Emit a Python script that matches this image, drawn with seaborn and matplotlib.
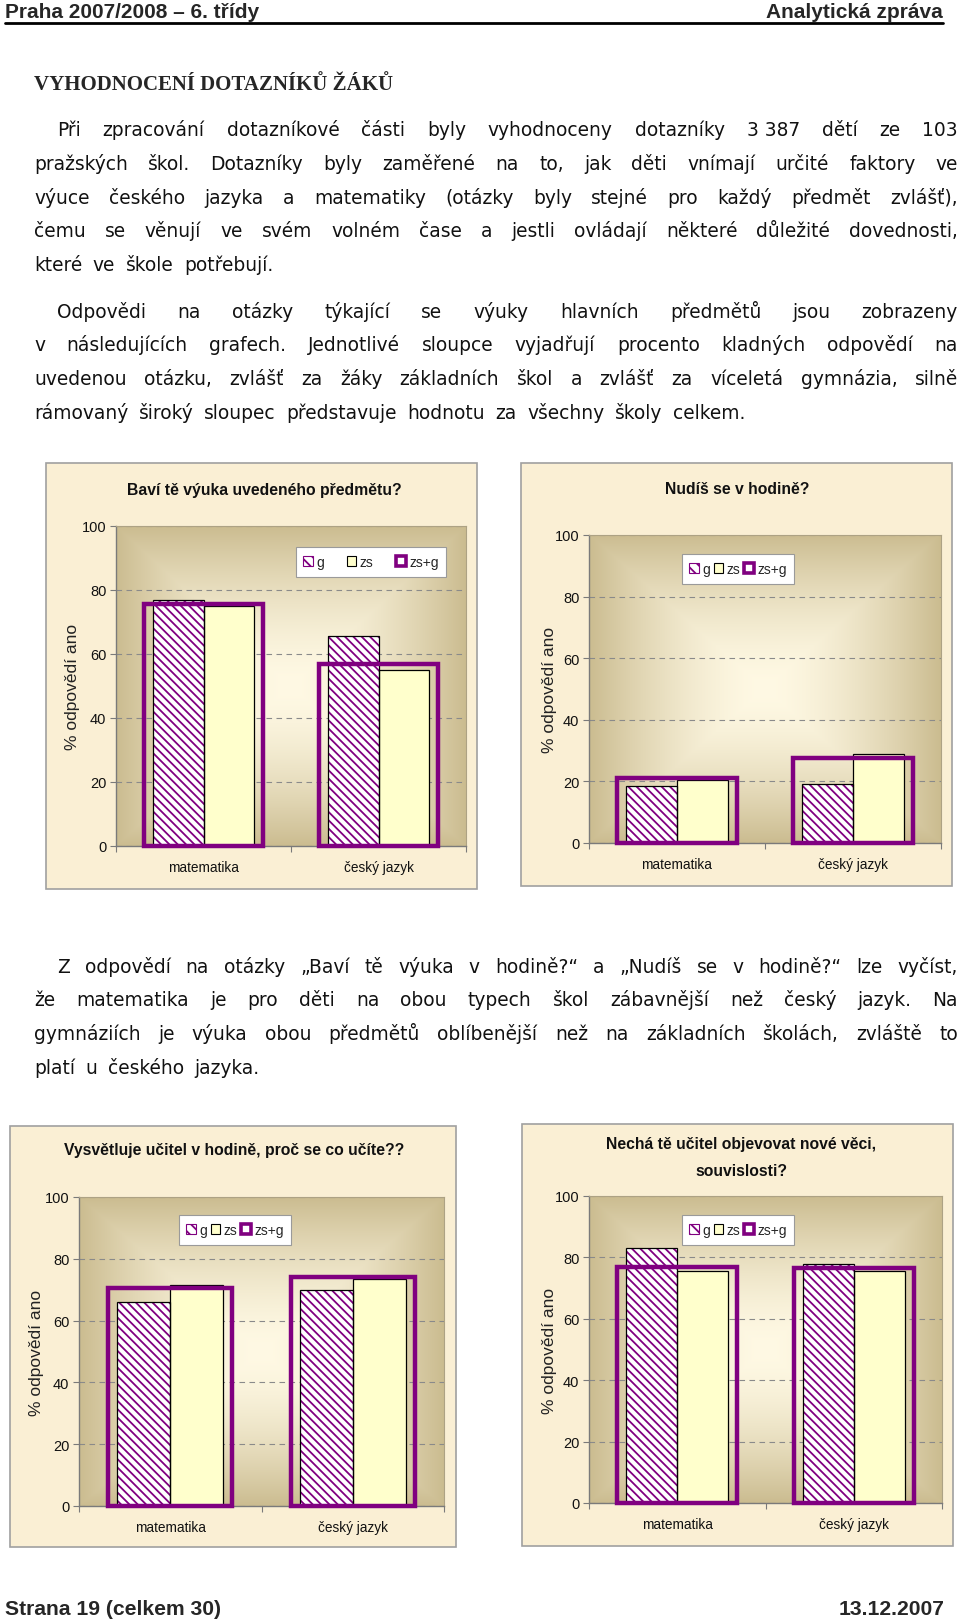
import numpy as np
import pandas as pd
import matplotlib
matplotlib.use('Agg')
import matplotlib.pyplot as plt
import seaborn as sns
from matplotlib.patches import Rectangle, Patch
from matplotlib.lines import Line2D
from matplotlib.ticker import FixedLocator
import matplotlib.font_manager as fm
from matplotlib.colors import to_rgb

# ---------------- data ----------------
kategorie = ['matematika', 'český jazyk']
skupiny = ['g', 'zs', 'zs+g']

bavi_g = [77, 65.5]
bavi_zs = [75, 55]
bavi_celkem = [75.5, 57]

nudis_g = [18.5, 19]
nudis_zs = [20.5, 29]
nudis_celkem = [21, 27.5]

vysvetluje_g = [66, 70]
vysvetluje_zs = [71.5, 73.5]
vysvetluje_celkem = [70.5, 74]

necha_g = [83, 78]
necha_zs = [75.5, 75.5]
necha_celkem = [77, 76.5]

nadpisy = [
    ['Baví tě výuka uvedeného předmětu?'],
    ['Nudíš se v hodině?'],
    ['Vysvětluje učitel v hodině, proč se co učíte??'],
    ['Nechá tě učitel objevovat nové věci,', 'souvislosti?'],
]
osa_y = '% odpovědí ano'
y_ticks = [0, 20, 40, 60, 80, 100]

odstavec1 = [
    'Při zpracování dotazníkové části byly vyhodnoceny dotazníky 3\u00a0387 dětí ze 103',
    'pražských škol. Dotazníky byly zaměřené na to, jak děti vnímají určité faktory ve',
    'výuce českého jazyka a matematiky (otázky byly stejné pro každý předmět zvlášť),',
    'čemu se věnují ve svém volném čase a jestli ovládají některé důležité dovednosti,',
    'které ve škole potřebují.',
]
odstavec2 = [
    'Odpovědi na otázky týkající se výuky hlavních předmětů jsou zobrazeny',
    'v následujících grafech. Jednotlivé sloupce vyjadřují procento kladných odpovědí na',
    'uvedenou otázku, zvlášť za žáky základních škol a zvlášť za víceletá gymnázia, silně',
    'rámovaný široký sloupec představuje hodnotu za všechny školy celkem.',
]
odstavec3 = [
    'Z odpovědí na otázky „Baví tě výuka v hodině?“ a „Nudíš se v hodině?“ lze vyčíst,',
    'že matematika je pro děti na obou typech škol zábavnější než český jazyk. Na',
    'gymnáziích je výuka obou předmětů oblíbenější než na základních školách, zvláště to',
    'platí u českého jazyka.',
]

# ---------------- style ----------------
sns.set_theme(style='white')
_names = {f.name for f in fm.fontManager.ttflist}
NARROW = 'Liberation Sans Narrow' if 'Liberation Sans Narrow' in _names else 'Liberation Sans'
plt.rcParams['font.family'] = ['DejaVu Sans']
plt.rcParams['hatch.linewidth'] = 1.3

PURPLE = '#800080'
ZS_COLOR = '#FFFFCC'
BOX_COLOR = '#FAEFD4'

W, H = 960, 1624
fig = plt.figure(figsize=(W / 100, H / 100), dpi=100)
fig.patch.set_facecolor('white')


def fx(px):
    return px / W


def fy(py):
    return 1 - py / H


# ---------------- header / footer ----------------
fig.text(fx(5), fy(18.5), 'Praha 2007/2008 – 6. třídy', fontfamily='Liberation Sans',
         fontweight='bold', fontsize=15, va='baseline', ha='left')
fig.text(fx(943), fy(18.5), 'Analytická zpráva', fontfamily='Liberation Sans',
         fontweight='bold', fontsize=15, va='baseline', ha='right')
fig.add_artist(Line2D([fx(5), fx(943)], [fy(23.5), fy(23.5)], color='black', lw=2))

fig.text(fx(34), fy(85), 'VYHODNOCENÍ DOTAZNÍKŮ ŽÁKŮ', fontfamily='Liberation Serif',
         fontweight='bold', fontsize=15, va='center', ha='left')

fig.text(fx(5), fy(1610), 'Strana 19 (celkem 30)', fontfamily='Liberation Sans',
         fontweight='bold', fontsize=15.2, va='center', ha='left')
fig.text(fx(945), fy(1610), '13.12.2007', fontfamily='Liberation Sans',
         fontweight='bold', fontsize=15.2, va='center', ha='right')

# ---------------- justified body text ----------------
renderer = fig.canvas.get_renderer()
BODY = dict(fontfamily='DejaVu Sans', fontsize=13.4, va='baseline', ha='left', color='#111111')


def line_text(line, y, x0, x1, justify=True):
    words = [w for w in line.split(' ') if w]
    texts = [fig.text(0, 0, w, **BODY) for w in words]
    widths = [t.get_window_extent(renderer).width for t in texts]
    if justify and len(words) > 1:
        gap = (x1 - x0 - sum(widths)) / (len(words) - 1)
    else:
        gap = 10.5
    x = x0
    base = y + 6
    for t, w in zip(texts, widths):
        t.set_position((fx(x), fy(base)))
        x += w + gap


def paragraph(lines, ys, indent=57, left=34, right=958):
    for i, (ln, y) in enumerate(zip(lines, ys)):
        x0 = indent if i == 0 else left
        line_text(ln, y, x0, right, justify=(i < len(lines) - 1))


paragraph(odstavec1, [130, 164, 198, 231, 265])
paragraph(odstavec2, [312, 345, 379, 413])
paragraph(odstavec3, [967, 1000, 1034, 1068])

# ---------------- charts ----------------
layouts = [
    dict(box=(46, 464, 477, 890), plot=(116, 527, 466, 847), title_x=264, title_y=[490],
         leg=(371, 563), legsp=1.6, ylab=80),
    dict(box=(521, 464, 952, 887), plot=(589, 536, 941, 844), title_x=737, title_y=[490],
         leg=(738, 570), legsp=0.25, ylab=557),
    dict(box=(10, 1127, 456, 1548), plot=(79, 1198, 444, 1507), title_x=234, title_y=[1151],
         leg=(235, 1231), legsp=0.25, ylab=44),
    dict(box=(522, 1125, 953, 1547), plot=(589, 1197, 942, 1504), title_x=741,
         title_y=[1144, 1172], leg=(738, 1231), legsp=0.25, ylab=557),
]
data_g = [bavi_g, nudis_g, vysvetluje_g, necha_g]
data_zs = [bavi_zs, nudis_zs, vysvetluje_zs, necha_zs]
data_c = [bavi_celkem, nudis_celkem, vysvetluje_celkem, necha_celkem]

# gradient for the plot area
gx = np.linspace(-1, 1, 300)
GX, GY = np.meshgrid(gx, gx)
t = np.maximum(np.abs(GX), np.abs(GY)) ** 1.6
c_in = np.array(to_rgb('#FFF9E4'))
c_out = np.array(to_rgb('#CBBC90'))
grad = c_in[None, None, :] * (1 - t[..., None]) + c_out[None, None, :] * t[..., None]

HATCH = '\\\\\\\\'

for k, lay in enumerate(layouts):
    bx0, by0, bx1, by1 = lay['box']
    fig.add_artist(Rectangle((fx(bx0), fy(by1)), (bx1 - bx0) / W, (by1 - by0) / H,
                             transform=fig.transFigure, facecolor=BOX_COLOR,
                             edgecolor='#A0A0A0', lw=1.2, zorder=-5))
    px0, py0, px1, py1 = lay['plot']
    pos = [fx(px0), fy(py1), (px1 - px0) / W, (py1 - py0) / H]
    bax = fig.add_axes(pos, zorder=0)
    bax.imshow(grad, aspect='auto', extent=(0, 1, 0, 1), interpolation='bilinear')
    bax.axis('off')
    ax = fig.add_axes(pos, zorder=1)
    ax.set_facecolor('none')

    df = pd.DataFrame({
        'předmět': kategorie * 2,
        'skupina': ['g'] * len(kategorie) + ['zs'] * len(kategorie),
        'procento': list(data_g[k]) + list(data_zs[k]),
    })
    sns.barplot(data=df, x='předmět', y='procento', hue='skupina', hue_order=['g', 'zs'],
                palette={'g': 'white', 'zs': ZS_COLOR}, width=0.58, dodge=True,
                saturation=1, errorbar=None, legend=False, ax=ax,
                linewidth=0.9, edgecolor='black', zorder=2)
    for p in ax.containers[0]:
        p.set_hatch(HATCH)
        p.set_edgecolor(PURPLE)
        p.set_linewidth(0)
        ax.add_patch(Rectangle(p.get_xy(), p.get_width(), p.get_height(), fill=False,
                               edgecolor='black', lw=0.9, zorder=2.5))

    df2 = pd.DataFrame({'předmět': kategorie, 'procento': data_c[k]})
    sns.barplot(data=df2, x='předmět', y='procento', width=0.68, fill=False,
                color=PURPLE, linewidth=3.2, errorbar=None, ax=ax, zorder=3)
    for p in ax.containers[-1]:
        p.set_clip_on(False)
        p.set_joinstyle('miter')
        p.set_edgecolor(PURPLE)

    ax.set_xlim(-0.5, 1.5)
    ax.set_ylim(0, 100)
    ax.set_yticks(y_ticks)
    ax.set_axisbelow(True)
    ax.yaxis.grid(True, linestyle=(0, (5, 4)), color='#8a8a8a', lw=0.8)
    ax.xaxis.grid(False)
    for s in ['left', 'bottom']:
        ax.spines[s].set_color('#7a7a7a')
        ax.spines[s].set_linewidth(1.0)
    for s in ['top', 'right']:
        ax.spines[s].set_color('#ADA284')
        ax.spines[s].set_linewidth(0.8)
    ax.tick_params(axis='y', length=4, width=0.8, color='#7a7a7a', direction='out',
                   left=True, pad=3, labelsize=10.5)
    ax.tick_params(axis='x', which='major', length=0, pad=10, labelsize=9.8)
    ax.xaxis.set_minor_locator(FixedLocator([-0.5, 0.5, 1.5]))
    ax.tick_params(axis='x', which='minor', length=4, width=0.8, color='#7a7a7a',
                   direction='out', bottom=True)
    for lbl in ax.get_xticklabels() + ax.get_yticklabels():
        lbl.set_fontfamily(NARROW)
        lbl.set_color('#111111')
    ax.set_xlabel('')
    ax.set_ylabel(osa_y, fontfamily='Liberation Sans', fontsize=12.5, color='#222222')
    ax.yaxis.set_label_coords((lay['ylab'] - px0) / (px1 - px0), 0.5)

    for line, ty in zip(nadpisy[k], lay['title_y']):
        fig.text(fx(lay['title_x']), fy(ty), line, fontfamily=NARROW, fontweight='bold',
                 fontsize=11.3, ha='center', va='center', color='#111111')

    handles = [
        Patch(facecolor='white', edgecolor=PURPLE, hatch='\\\\\\', lw=0.8),
        Patch(facecolor=ZS_COLOR, edgecolor='black', lw=0.8),
        Patch(facecolor='white', edgecolor=PURPLE, lw=2.6),
    ]
    leg = ax.legend(handles, skupiny, ncol=3, loc='center',
                    bbox_to_anchor=(fx(lay['leg'][0]), fy(lay['leg'][1])),
                    bbox_transform=fig.transFigure, frameon=True, fancybox=False,
                    edgecolor='#9a9a9a', framealpha=1, handlelength=0.7,
                    handleheight=0.7, handletextpad=0.25, columnspacing=lay['legsp'],
                    borderpad=0.55, prop={'family': NARROW, 'size': 10})
    leg.get_frame().set_linewidth(0.8)
    leg.set_zorder(5)

fig.savefig('out.png', dpi=100, facecolor='white')
